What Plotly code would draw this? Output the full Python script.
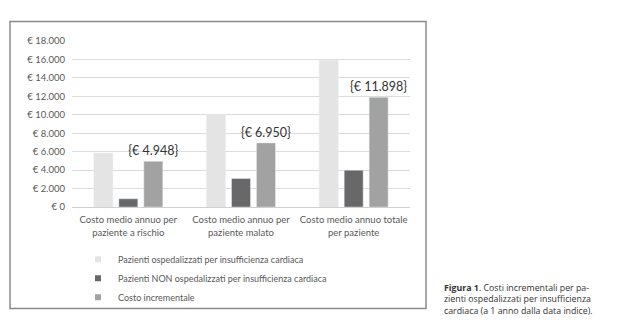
import plotly.graph_objects as go

categories = ["Costo medio annuo per<br>paziente a rischio",
              "Costo medio annuo per<br>paziente malato",
              "Costo medio annuo totale<br>per paziente"]
series_names = ["Pazienti ospedalizzati per insufficienza cardiaca",
                "Pazienti NON ospedalizzati per insufficienza cardiaca",
                "Costo incrementale"]
ospedalizzati = [5850, 10050, 15900]
non_ospedalizzati = [900, 3100, 4000]
incrementale = [4948, 6950, 11898]
incr_labels = ["{€ 4.948}", "{€ 6.950}", "{€ 11.898}"]
tick_vals = [0, 2000, 4000, 6000, 8000, 10000, 12000, 14000, 16000, 18000]
tick_text = ["€ 0", "€ 2.000", "€ 4.000", "€ 6.000", "€ 8.000", "€ 10.000",
             "€ 12.000", "€ 14.000", "€ 16.000", "€ 18.000"]
colors = ["#e4e4e4", "#686868", "#a2a2a2"]

W, H = 619, 331
FONT = "Lato, 'Open Sans', sans-serif"

fig = go.Figure()
for name, vals, col in zip(series_names, [ospedalizzati, non_ospedalizzati, incrementale], colors):
    is_incr = name == "Costo incrementale"
    fig.add_trace(go.Bar(name=name, x=categories, y=vals, marker_color=col,
                         showlegend=False,
                         text=incr_labels if is_incr else None,
                         textposition="outside" if is_incr else "none",
                         constraintext="none",
                         textfont=dict(size=12.5, color="#333333", family=FONT),
                         cliponaxis=False))
# legend entries with small square markers
for name, col in zip(series_names, colors):
    fig.add_trace(go.Scatter(name=name, x=[None], y=[None], mode="markers",
                             marker=dict(symbol="square", size=6, color=col),
                             showlegend=True))

fig.update_layout(
    width=W, height=H,
    margin=dict(l=0, r=0, t=0, b=0),
    paper_bgcolor="white", plot_bgcolor="white",
    barmode="group", bargap=0.335, bargroupgap=0.24,
    font=dict(family=FONT, size=9, color="#595959"),
    showlegend=True,
    legend=dict(x=78 / W, y=1 - 247 / H, xanchor="left", yanchor="top",
                font=dict(size=9, color="#595959"), itemwidth=30,
                itemsizing="trace", tracegroupgap=0, bgcolor="rgba(0,0,0,0)"),
    xaxis=dict(domain=[72 / W, 410 / W], showgrid=False, showline=True,
               linecolor="#d0d0d0", linewidth=1, ticks="",
               tickfont=dict(size=9.5, color="#595959"), ticklabelstandoff=4),
    yaxis=dict(domain=[1 - 208 / H, 1 - 36 / H], range=[0, 18000],
               tickvals=tick_vals, ticktext=tick_text, showgrid=True,
               gridcolor="#dcdcdc", zeroline=False, showline=False,
               tickfont=dict(size=9.5, color="#595959"), ticklabelstandoff=6),
    annotations=[dict(xref="paper", yref="paper", x=442 / W, y=1 - 283 / H,
                      xanchor="left", yanchor="top", align="left", showarrow=False,
                      text="<b>Figura 1</b>. Costi incrementali per pa-<br>"
                           "zienti ospedalizzati per insufficienza<br>"
                           "cardiaca (a 1 anno dalla data indice).",
                      font=dict(family="'Open Sans', sans-serif", size=8.8, color="#333333"))],
)

# outer frame around the chart
fig.add_shape(type="rect", xref="paper", yref="paper",
              x0=10 / W, x1=426 / W, y0=1 - 313 / H, y1=1 - 16 / H,
              line=dict(color="#8a8a8a", width=1.5), fillcolor="rgba(0,0,0,0)")

fig.write_html("out.html")
